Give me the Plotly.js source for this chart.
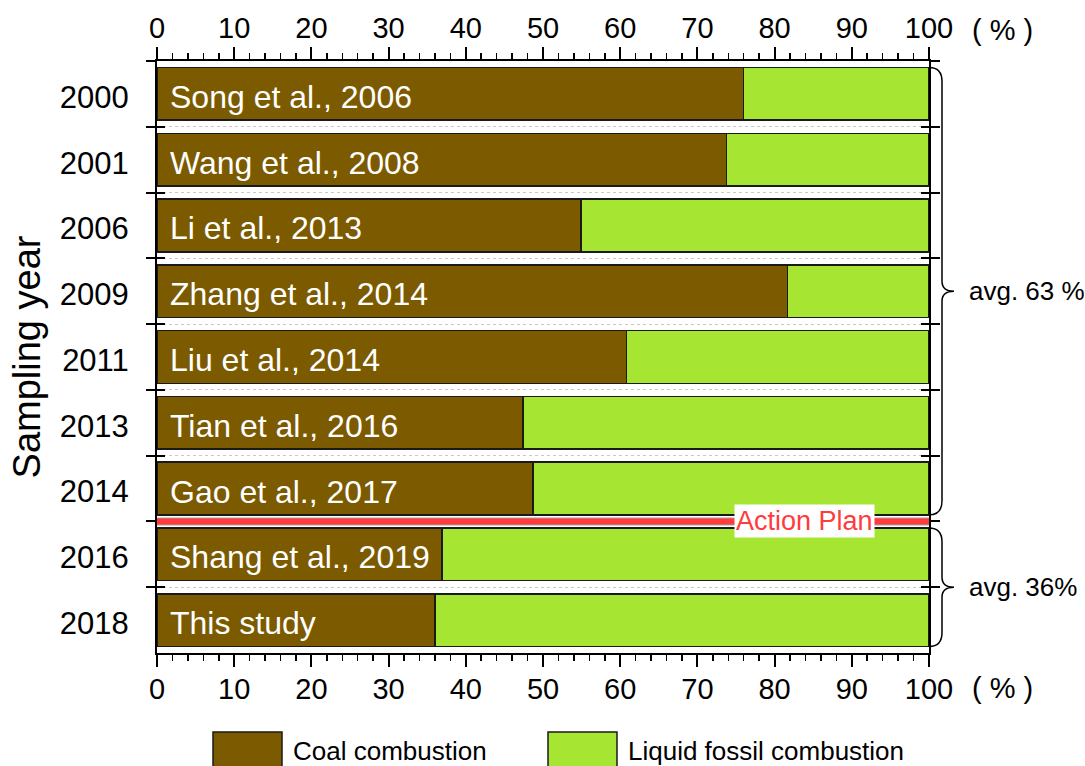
<!DOCTYPE html>
<html>
<head>
<meta charset="utf-8">
<script src="https://cdn.plot.ly/plotly-3.0.1.min.js"></script>
<style>html,body{margin:0;padding:0;background:#fff;}#chart{width:1085px;height:766px;}</style>
</head>
<body>
<div id="chart"></div>
<script>
// ---- data ----
const years = ['2000','2001','2006','2009','2011','2013','2014','2016','2018'];
const studies = ['Song et al., 2006','Wang et al., 2008','Li et al., 2013','Zhang et al., 2014','Liu et al., 2014','Tian et al., 2016','Gao et al., 2017','Shang et al., 2019','This study'];
const coal = [76.0, 73.8, 54.9, 81.7, 60.8, 47.4, 48.7, 36.9, 36.0];
const liquid = [24.0, 26.2, 45.1, 18.3, 39.2, 52.6, 51.3, 63.1, 64.0];
const seriesNames = ['Coal combustion', 'Liquid fossil combustion'];
const groups = [
  {from: '2000', to: '2014', label: 'avg. 63 %'},
  {from: '2016', to: '2018', label: 'avg. 36%'}
];
const actionPlanAfter = '2014';
const actionPlanLabel = 'Action Plan';
const actionPlanLabelX = 83.9;
const xTickVals = [0,10,20,30,40,50,60,70,80,90,100];
const unitLabel = '( % )';

// ---- styles ----
const colors = ['#7b5a00', '#a6e632'];
const FONT = 'Liberation Sans, Arial, sans-serif';
const barWidth = 0.8;
const yRange = [years.length - 0.5, -0.5];
const yIdx = years.map((_, i) => i);

const traces = [
  {type: 'bar', orientation: 'h', y: years, x: coal, name: seriesNames[0],
   width: barWidth, marker: {color: colors[0], line: {color: '#1a1a1a', width: 1.5}},
   hoverinfo: 'x+y'},
  {type: 'bar', orientation: 'h', y: years, x: liquid, name: seriesNames[1],
   width: barWidth, marker: {color: colors[1], line: {color: '#1a1a1a', width: 1.5}},
   hoverinfo: 'x+y'},
  // transparent helper trace so the top x-axis and inner y ticks/grid are drawn
  {type: 'bar', orientation: 'h', y: yIdx, x: coal, xaxis: 'x2', yaxis: 'y2',
   width: barWidth, marker: {color: 'rgba(0,0,0,0)'}, opacity: 0, hoverinfo: 'skip', showlegend: false}
];

function paperY(idx) { return (yRange[0] - idx) / (yRange[0] - yRange[1]); }

const shapes = [];
const annotations = [];

// study labels inside the bars
studies.forEach((s, i) => {
  annotations.push({x: 0, y: i, xref: 'x', yref: 'y', text: s, showarrow: false,
    xanchor: 'left', yanchor: 'middle', xshift: 11, yshift: -3, font: {family: FONT, size: 32, color: '#ffffff'}});
});

// braces with averages
const plotW = 772, plotH = 592;
groups.forEach(g => {
  const i0 = years.indexOf(g.from), i1 = years.indexOf(g.to);
  const yt = paperY(i0 - barWidth / 2), yb = paperY(i1 + barWidth / 2);
  const ym = (yt + yb) / 2;
  const x0 = 1.0, xv = 1 + 13 / plotW, xt = 1 + 25 / plotW;
  const r = 14 / plotH, rm = 10 / plotH;
  const p = `M ${x0},${yt} Q ${xv},${yt} ${xv},${yt - r} L ${xv},${ym + rm} Q ${xv},${ym} ${xt},${ym} ` +
            `Q ${xv},${ym} ${xv},${ym - rm} L ${xv},${yb + r} Q ${xv},${yb} ${x0},${yb}`;
  shapes.push({type: 'path', xref: 'paper', yref: 'paper', path: p, line: {color: '#000', width: 1.5}});
  annotations.push({x: 1 + 38 / plotW, y: ym, xref: 'paper', yref: 'paper', text: g.label, showarrow: false,
    xanchor: 'left', yanchor: 'middle', font: {family: FONT, size: 26, color: '#000'}});
});

// Action Plan divider
const apY = years.indexOf(actionPlanAfter) + 0.5;
shapes.push({type: 'line', xref: 'paper', yref: 'y', x0: 0, x1: 1, y0: apY, y1: apY,
  line: {color: '#a0a0a0', width: 8}, layer: 'above'});
shapes.push({type: 'line', xref: 'paper', yref: 'y', x0: 0, x1: 1, y0: apY, y1: apY,
  line: {color: '#ff3b3b', width: 6}, layer: 'above'});
annotations.push({x: actionPlanLabelX, y: apY, xref: 'x', yref: 'y', text: actionPlanLabel, showarrow: false,
  xanchor: 'center', yanchor: 'middle',
  bgcolor: '#ffffff', borderpad: 1, font: {family: FONT, size: 27, color: '#ff3b3b'}});

// unit labels
[1 + 31 / plotH, -35 / plotH].forEach(yy => {
  annotations.push({x: 1 + 74 / plotW, y: yy, xref: 'paper', yref: 'paper', text: unitLabel,
    xanchor: 'center', yanchor: 'middle',
    showarrow: false, font: {family: FONT, size: 29, color: '#000'}});
});

// custom legend
const legendItems = [{x0: 213, x1: 282}, {x0: 548, x1: 617}];
seriesNames.forEach((n, k) => {
  const it = legendItems[k];
  shapes.push({type: 'rect', xref: 'paper', yref: 'paper',
    x0: (it.x0 - 157) / plotW, x1: (it.x1 - 157) / plotW,
    y0: (653 - 732) / plotH, y1: (653 - 775) / plotH,
    fillcolor: colors[k], line: {color: '#1a1a1a', width: 1.5}});
  annotations.push({x: (it.x1 + 9 - 157) / plotW, y: (653 - 751) / plotH, xref: 'paper', yref: 'paper',
    text: n, showarrow: false, xanchor: 'left', yanchor: 'middle', font: {family: FONT, size: 26, color: '#000'}});
});

const xCommon = {
  range: [0, 100], tickvals: xTickVals, ticktext: xTickVals.map(String),
  ticks: 'outside', ticklen: 12, tickwidth: 2, tickcolor: '#000',
  minor: {dtick: 2, tick0: 0, ticks: 'outside', ticklen: 6, tickwidth: 1.5, tickcolor: '#000', showgrid: false},
  showline: true, linecolor: '#000', linewidth: 2, showgrid: false, zeroline: false,
  tickfont: {family: FONT, size: 29, color: '#000'}, ticklabelstandoff: -3, fixedrange: true
};

const layout = {
  width: 1085, height: 766,
  margin: {l: 157, r: 156, t: 61, b: 113, pad: 0},
  paper_bgcolor: '#fff', plot_bgcolor: '#fff',
  barmode: 'stack', showlegend: false,
  font: {family: FONT, color: '#000'},
  xaxis: Object.assign({}, xCommon, {side: 'bottom', anchor: 'y'}),
  xaxis2: Object.assign({}, xCommon, {side: 'top', overlaying: 'x', anchor: 'y'}),
  yaxis: {
    type: 'category', categoryorder: 'array', categoryarray: years, range: yRange,
    ticks: 'outside', tickson: 'boundaries', ticklen: 9, tickwidth: 2, tickcolor: '#000',
    showline: true, linecolor: '#000', linewidth: 2, mirror: 'allticks', showgrid: false, zeroline: false,
    tickfont: {family: FONT, size: 31, color: '#000'}, ticklabelstandoff: 20, ticklabelshift: -3,
    title: {text: 'Sampling year', font: {family: FONT, size: 38, color: '#000'}, standoff: 8},
    fixedrange: true
  },
  yaxis2: {
    type: 'linear', overlaying: 'y', anchor: 'x', side: 'left', range: yRange, tick0: 0.5, dtick: 1,
    ticks: 'inside', ticklen: 8, tickwidth: 2, tickcolor: '#000', showticklabels: false,
    mirror: 'allticks', showline: false, showgrid: true, gridcolor: '#c8c8c8', griddash: 'dot', gridwidth: 1,
    zeroline: false, fixedrange: true
  },
  shapes: shapes, annotations: annotations
};

Plotly.newPlot('chart', traces, layout, {displayModeBar: false, staticPlot: true});
</script>
</body>
</html>
